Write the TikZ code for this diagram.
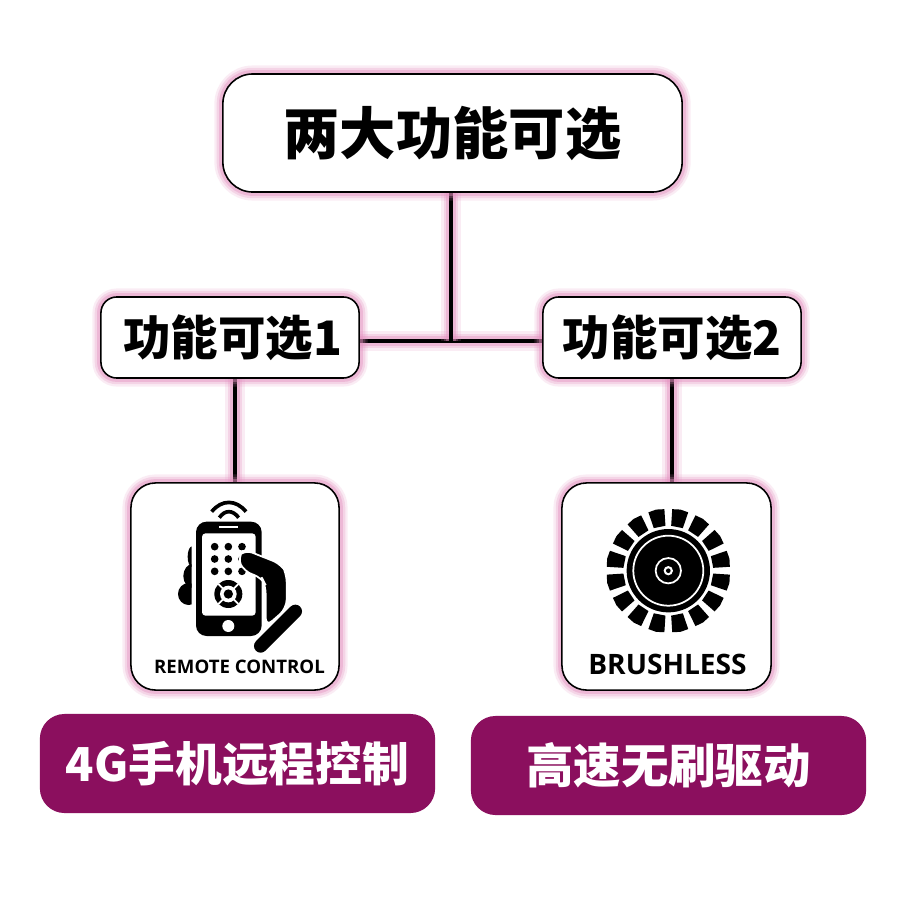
\documentclass[tikz,border=0pt]{standalone}
\usepackage{fontspec}
\usepackage{xcolor}
\usepackage{tikz}
\usetikzlibrary{backgrounds}
\setmainfont{Noto Sans CJK SC}
\newfontfamily\latinfont{Open Sans}
\definecolor{glowpink}{HTML}{E48FC0}
\definecolor{plumfill}{HTML}{8B0F5E}
\tikzset{
  glow/.style={
    preaction={draw=glowpink,line width=#1*2.2,opacity=.16},
    preaction={draw=glowpink,line width=#1*1.6,opacity=.25},
    preaction={draw=glowpink,line width=#1,opacity=.4}},
  framebox/.style={glow=2.2pt,draw=black,line width=.45pt,fill=white,inner sep=0pt,font=\bfseries},
  plumbox/.style={fill=plumfill,text=white,rounded corners=7pt,inner sep=0pt,font=\bfseries\fontsize{13.3}{16}\selectfont},
  wire/.style={glow=2.6pt,draw=black,line width=.9pt}
}
\begin{document}
\begin{tikzpicture}[x=0.01cm, y=-0.01cm]
      \useasboundingbox (0,0) rectangle (900,900);
      % boxes
      \node[framebox,rounded corners=8.5pt,minimum width=4.59cm,minimum height=1.18cm,font=\bfseries\fontsize{16}{19}\selectfont]
        (title) at (452.5,133) {两大功能可选};
      \node[framebox,rounded corners=4.5pt,minimum width=2.58cm,minimum height=.81cm,font=\bfseries\fontsize{13.5}{16}\selectfont]
        (optone) at (230,337.5) {\hspace{1.6pt}功能可选1};
      \node[framebox,rounded corners=4.5pt,minimum width=2.58cm,minimum height=.81cm,font=\bfseries\fontsize{13.5}{16}\selectfont]
        (opttwo) at (672,337.5) {功能可选2};
      \node[framebox,rounded corners=7pt,minimum width=2.08cm,minimum height=2.07cm] (iconone) at (235,586.5) {};
      \node[framebox,rounded corners=7pt,minimum width=2.09cm,minimum height=2.07cm] (icontwo) at (666.5,586.5) {};
      \node[plumbox,minimum width=3.95cm,minimum height=.99cm,font=\bfseries\fontsize{13.3}{16}\selectfont] (capone) at (237.5,763.5) {4G手机远程控制};
      \node[plumbox,minimum width=3.95cm,minimum height=.99cm,font=\bfseries\fontsize{13.5}{16}\selectfont] (captwo) at (668.5,765.5) {高速无刷驱动};
      % connectors
      \coordinate (hub) at (451,341);
      \begin{scope}[on background layer]
        \fill[white] (0,0) rectangle (900,900);
        \draw[wire] (optone.east |- hub) -- (opttwo.west |- hub);
        \draw[wire] (hub |- title.south) -- (hub);
        \draw[wire] (iconone.north) -- (iconone |- optone.south);
        \draw[wire] (opttwo.south) -- (opttwo |- icontwo.north);
      \end{scope}
      % remote control icon
      \begin{scope}[shift={(120,470)},x=0.01cm/3,y=-0.01cm/3]
        \draw[line width=1.05pt] (275,125) .. controls (305,88) and (348,88) .. (378,125);
        \draw[line width=1.05pt] (298,143) .. controls (315,119) and (338,119) .. (356,143);
        \fill[rounded corners=3pt] (228,155) rectangle (425,498);
        \fill[white,rounded corners=1pt] (246,190) rectangle (407,437);
        \draw[white,line width=.5pt] (297,172) -- (355,172);
        \fill[white] (325,468) circle [radius=18];
        \foreach \px in {284,325,366}
          \foreach \py in {230,267,304}
            \fill (\px,\py) circle [radius=11.5];
        \fill (325,372) circle [radius=42];
        \draw[white,line width=.5pt] (295,342) -- (355,402) (295,402) -- (355,342);
        \fill[white] (325,372) circle [radius=25];
        \fill (325,372) circle [radius=14];
        \begin{scope}
          \clip (150,200) rectangle (215,420);
          \fill (216,260) ellipse [x radius=13, y radius=31];
          \fill (218,318) ellipse [x radius=28, y radius=36];
          \fill (206,372) ellipse [x radius=32, y radius=33];
        \end{scope}
        \filldraw[draw=white,line width=.5pt,rounded corners=2.5pt]
          (352,262) -- (372,238) -- (485,283) -- (500,310) -- (500,415) -- (437,470)
          -- (437,345) -- (425,322) -- (372,305) -- cycle;
        \draw[line width=3.8pt,line cap=round] (422,528) -- (526,424);
      \end{scope}
      \node[font=\latinfont\bfseries\fontsize{5.3}{6}\selectfont,inner sep=0pt] (remotetext) at (239.5,667) {REMOTE CONTROL};
      % brushless icon
      \begin{scope}[shift={(668.3,570.7)},x=0.01cm/3,y=-0.01cm/3]
        \foreach \a in {0,1,...,15}
          \fill ({11.25+22.5*\a-7.6}:135) -- ({11.25+22.5*\a-7.6}:185) -- ({11.25+22.5*\a}:187)
            -- ({11.25+22.5*\a+7.6}:185) -- ({11.25+22.5*\a+7.6}:135) -- cycle;
        \fill (0,0) circle [radius=125];
        \draw[white,line width=.5pt] (0,0) circle [radius=105];
        \draw[white,line width=.5pt] (0,0) circle [radius=38];
        \fill[white] (0,0) circle [radius=14];
        \fill (0,0) circle [radius=7];
      \end{scope}
      \node[font=\latinfont\bfseries\fontsize{8}{10}\selectfont,inner sep=0pt] (brushtext) at (667.5,664.5) {BRUSHLESS};
    \end{tikzpicture}
\end{document}
